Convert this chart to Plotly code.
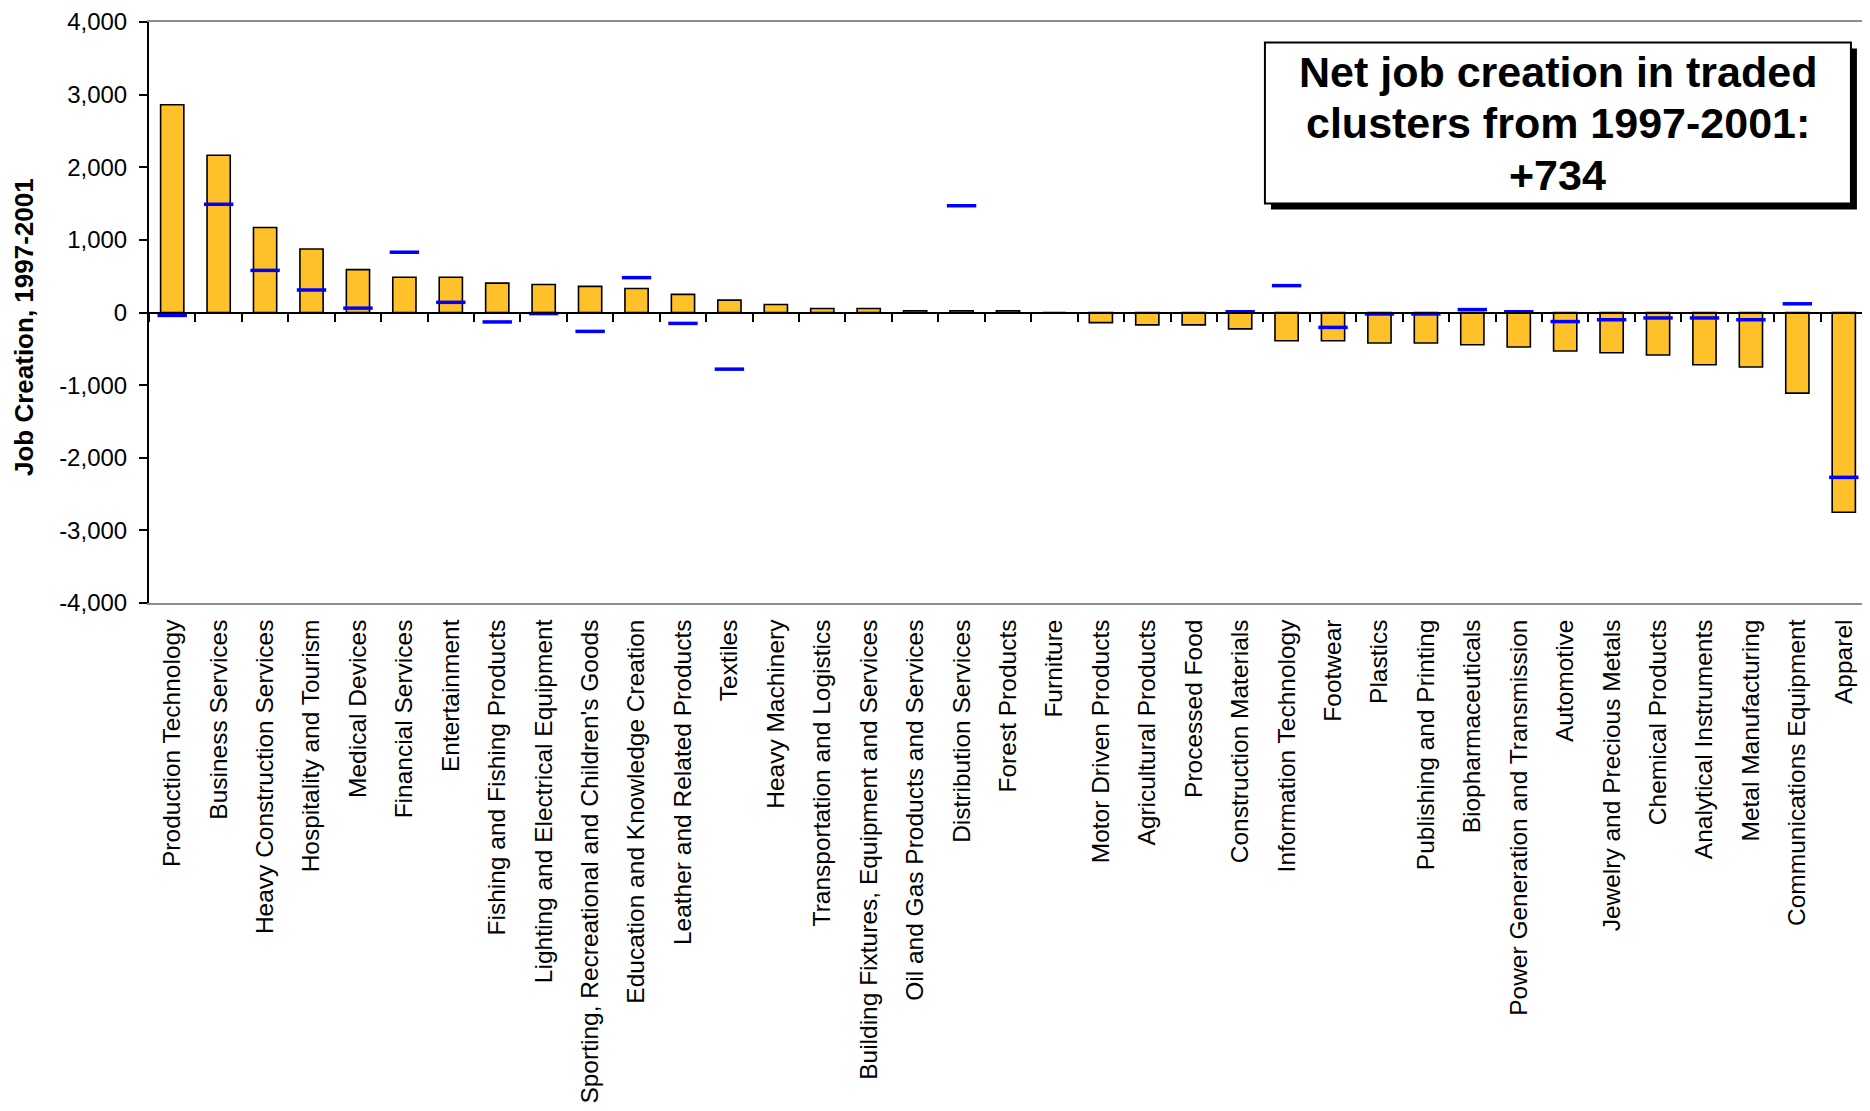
import plotly.graph_objects as go

# ---------------- data ----------------
categories = [
    "Production Technology", "Business Services", "Heavy Construction Services",
    "Hospitality and Tourism", "Medical Devices", "Financial Services", "Entertainment",
    "Fishing and Fishing Products", "Lighting and Electrical Equipment",
    "Sporting, Recreational and Children's Goods", "Education and Knowledge Creation",
    "Leather and Related Products", "Textiles", "Heavy Machinery",
    "Transportation and Logistics", "Building Fixtures, Equipment and Services",
    "Oil and Gas Products and Services", "Distribution Services", "Forest Products",
    "Furniture", "Motor Driven Products", "Agricultural Products", "Processed Food",
    "Construction Materials", "Information Technology", "Footwear", "Plastics",
    "Publishing and Printing", "Biopharmaceuticals", "Power Generation and Transmission",
    "Automotive", "Jewelry and Precious Metals", "Chemical Products",
    "Analytical Instruments", "Metal Manufacturing", "Communications Equipment", "Apparel",
]

job_creation = [
    2860, 2165, 1170, 875, 590, 485, 485, 405, 385, 360, 330, 250, 170, 110,
    55, 55, 25, 25, 25, 0, -140, -170, -170, -225, -390, -390, -420, -420,
    -445, -475, -530, -555, -585, -720, -750, -1110, -2750,
]

blue_marks = [
    -40, 1490, 580, 310, 60, 830, 140, -130, -15, -260, 480, -150, -780, None,
    None, None, None, 1470, None, None, None, None, None, 10, 370, -205, -20, -20,
    40, 10, -125, -100, -75, -75, -100, 120, -2270,
]

y_ticks = [-4000, -3000, -2000, -1000, 0, 1000, 2000, 3000, 4000]
y_tick_text = [f"{v:,}" for v in y_ticks]

box_lines = ["Net job creation in traded", "clusters from 1997-2001:", "+734"]
y_title = "Job Creation, 1997-2001"

# ---------------- figure ----------------
FONT = "Liberation Sans, Arial, Helvetica, sans-serif"
GOLD = "#FFC12A"
BLUE = "#0000FF"
GRAY = "#8C8C8C"

fig = go.Figure()

fig.add_trace(go.Bar(
    x=categories, y=job_creation, width=0.5,
    marker=dict(color=GOLD, line=dict(color="black", width=1.6)),
    xaxis="x", yaxis="y", showlegend=False, name="Job creation",
))

fig.add_trace(go.Scatter(
    x=categories, y=blue_marks, mode="markers",
    marker=dict(symbol="line-ew", size=21, color=BLUE, line=dict(color=BLUE, width=3.5)),
    xaxis="x2", yaxis="y", showlegend=False, name="Reference",
))

x_range = [-0.5, len(categories) - 0.5]

fig.update_layout(
    width=1862, height=1103,
    margin=dict(l=141, r=3, t=14, b=508, autoexpand=False),
    paper_bgcolor="white", plot_bgcolor="white",
    font=dict(family=FONT, color="black", size=24),
    xaxis=dict(
        type="category", categoryorder="array", categoryarray=categories,
        range=x_range, anchor="y", side="bottom",
        showline=True, linecolor=GRAY, linewidth=1.5, mirror=True,
        ticks="", showgrid=False, zeroline=False,
        tickangle=-90, tickfont=dict(family=FONT, size=24.5, color="black"),
        ticklabelstandoff=5, ticklabeloverflow="allow", automargin=False,
    ),
    xaxis2=dict(
        type="category", categoryorder="array", categoryarray=categories,
        range=x_range, overlaying="x", anchor="free", position=0.5, side="bottom",
        showline=True, linecolor="black", linewidth=2,
        ticks="outside", ticklen=8, tickwidth=2, tickcolor="black",
        tickson="boundaries", showticklabels=False,
        showgrid=False, zeroline=False, automargin=False,
    ),
    yaxis=dict(
        range=[-4000, 4000], tickvals=y_ticks, ticktext=y_tick_text,
        showline=True, linecolor="black", linewidth=2,
        ticks="outside", ticklen=8, tickwidth=2, tickcolor="black",
        showgrid=False, zeroline=False,
        tickfont=dict(family=FONT, size=24, color="black"),
        ticklabelstandoff=7, ticklabeloverflow="allow", automargin=False,
    ),
)

# right frame edge
fig.add_shape(type="line", xref="paper", yref="paper", x0=1, x1=1, y0=0, y1=1,
              line=dict(color=GRAY, width=1.5), layer="above")

# y-axis title
fig.add_annotation(
    text=f"<b>{y_title}</b>", textangle=-90, showarrow=False,
    xref="paper", yref="paper", x=0, y=0.475, xanchor="center", yanchor="middle",
    xshift=-125, font=dict(family=FONT, size=26, color="black"),
)

# text box with drop shadow
BX, BY = 0.8201, 0.8262
fig.add_shape(type="rect", xref="paper", yref="paper",
              xsizemode="pixel", ysizemode="pixel", xanchor=BX, yanchor=BY,
              x0=-287, x1=299, y0=-86.5, y1=74.5,
              fillcolor="black", line=dict(color="black", width=0), layer="above")
fig.add_shape(type="rect", xref="paper", yref="paper",
              xsizemode="pixel", ysizemode="pixel", xanchor=BX, yanchor=BY,
              x0=-293, x1=293, y0=-80.5, y1=80.5,
              fillcolor="white", line=dict(color="black", width=2), layer="above")
for line_text, shift in zip(box_lines, [51, 0, -52]):
    fig.add_annotation(
        text=f"<b>{line_text}</b>", showarrow=False,
        xref="paper", yref="paper", x=BX, y=BY, xanchor="center", yanchor="middle",
        yshift=shift, font=dict(family=FONT, size=43, color="black"),
    )

fig.write_html("out.html")
